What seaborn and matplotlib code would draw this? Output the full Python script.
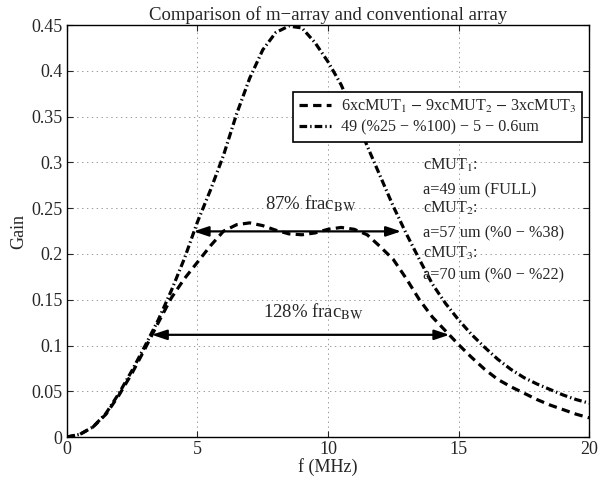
import matplotlib
matplotlib.use("Agg")
import matplotlib.pyplot as plt
from matplotlib.ticker import FormatStrFormatter, MultipleLocator
import seaborn as sns
import pandas as pd
import numpy as np

# frequency axis (MHz) and the two gain curves
freq = [0, 0.5, 1, 1.5, 2, 2.5, 3, 3.5, 4, 4.5, 5, 5.5, 6, 6.5, 7, 7.5, 8, 8.5,
        9, 9.5, 10, 10.5, 11, 11.5, 12, 12.5, 13, 13.5, 14, 14.5, 15, 15.5, 16,
        16.5, 17, 17.5, 18, 18.5, 19, 19.5, 20]

gain_marray = [0, 0.003, 0.011, 0.025, 0.046, 0.070, 0.097, 0.125, 0.152, 0.173,
               0.191, 0.209, 0.225, 0.232, 0.234, 0.231, 0.226, 0.222, 0.221,
               0.223, 0.227, 0.229, 0.227, 0.221, 0.208, 0.194, 0.173, 0.150,
               0.131, 0.116, 0.101, 0.087, 0.074, 0.063, 0.055, 0.048, 0.041,
               0.035, 0.030, 0.025, 0.021]

gain_conv = [0, 0.003, 0.011, 0.026, 0.048, 0.073, 0.100, 0.128, 0.160, 0.195,
             0.235, 0.270, 0.308, 0.353, 0.392, 0.423, 0.442, 0.449, 0.447,
             0.431, 0.410, 0.385, 0.353, 0.318, 0.285, 0.252, 0.222, 0.194,
             0.167, 0.146, 0.128, 0.112, 0.098, 0.085, 0.074, 0.065, 0.058,
             0.052, 0.046, 0.041, 0.037]

label_marray = r"6xcMUT$_1$ $-$ 9xcMUT$_2$ $-$ 3xcMUT$_3$"
label_conv = "49 (%25 \u2212 %100) \u2212 5 \u2212 0.6um"

# bandwidth arrows: (f_low, f_high, gain level)
bw_87 = [4.85, 12.8, 0.2247]
bw_128 = [3.25, 14.65, 0.1117]

sns.set_style("ticks")
plt.rcParams["font.family"] = ["Liberation Serif", "DejaVu Serif"]
plt.rcParams["mathtext.fontset"] = "stix"
plt.rcParams["lines.scale_dashes"] = False

df = pd.DataFrame({"f": freq, "marray": gain_marray, "conv": gain_conv})

fig = plt.figure(figsize=(6.08, 4.84), dpi=100)
ax = fig.add_axes([0.110, 0.097, 0.859, 0.851])

sns.lineplot(data=df, x="f", y="marray", ax=ax, color="black", lw=2.3,
             label=label_marray)
ax.lines[-1].set_dashes((6.0, 3.8))
sns.lineplot(data=df, x="f", y="conv", ax=ax, color="black", lw=2.3,
             label=label_conv)
ax.lines[-1].set_dashes((5.5, 2.2, 1.0, 2.2))

ax.set_xlim(0, 20)
ax.set_ylim(0, 0.45)
ax.xaxis.set_major_locator(MultipleLocator(5))
ax.yaxis.set_major_locator(MultipleLocator(0.05))
ax.yaxis.set_major_formatter(FormatStrFormatter("%g"))
ax.grid(True, linestyle=(0, (1, 2.5)), color="0.55", lw=0.6)
ax.tick_params(direction="in", top=True, right=True, length=4, labelsize=13,
               width=0.8, pad=3)
for s in ax.spines.values():
    s.set_linewidth(1.0)
    s.set_color("black")

ax.set_xlabel("f (MHz)", fontsize=13, labelpad=0)
ax.set_ylabel("Gain", fontsize=13, labelpad=3)
ax.set_title("Comparison of m\u2212array and conventional array", fontsize=13.5, pad=4)

arrow_kw = dict(arrowstyle="<|-|>,head_length=0.9,head_width=0.3",
                color="black", lw=1.6, mutation_scale=10, shrinkA=0, shrinkB=0)
ax.annotate("", xy=(bw_87[0], bw_87[2]), xytext=(bw_87[1], bw_87[2]),
            arrowprops=arrow_kw)
ax.annotate("", xy=(bw_128[0], bw_128[2]), xytext=(bw_128[1], bw_128[2]),
            arrowprops=arrow_kw)

ax.text(7.6, 0.249, r"87% frac$_{\rm BW}$", fontsize=13.5, ha="left", va="baseline")
ax.text(7.5, 0.131, r"128% frac$_{\rm BW}$", fontsize=13.5, ha="left", va="baseline")

notes = [(0.2917, r"cMUT$_1$:"), (0.265, "a=49 um (FULL)"),
         (0.245, r"cMUT$_2$:"), (0.2176, "a=57 um (%0 \u2212 %38)"),
         (0.1957, r"cMUT$_3$:"), (0.172, "a=70 um (%0 \u2212 %22)")]
for yv, txt in notes:
    ax.text(13.63, yv, txt, fontsize=11.7, ha="left", va="baseline")

leg = ax.legend(loc="upper right", bbox_to_anchor=(0.987, 0.837), fontsize=11.6,
                frameon=True, fancybox=False, edgecolor="black", framealpha=1,
                handlelength=2.0, borderpad=0.35, labelspacing=0.3,
                handletextpad=0.6, borderaxespad=0)
leg.get_frame().set_linewidth(1.2)

fig.savefig("out.png", dpi=100)
